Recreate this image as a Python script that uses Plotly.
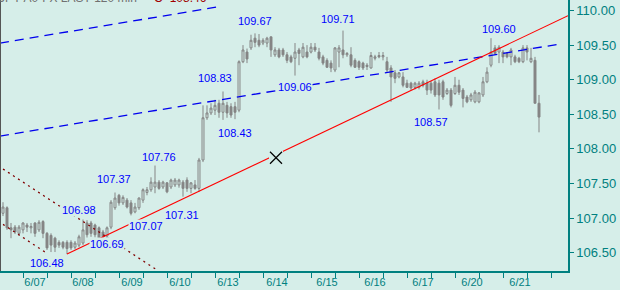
import plotly.graph_objects as go

# ---------------- data ----------------
opens = [107.07,107.15,106.86,106.87,106.78,106.83,106.90,106.86,106.93,106.83,
         106.95,106.78,106.75,106.71,106.65,106.65,106.65,106.65,106.58,106.61,
         106.64,106.93,106.93,106.90,106.86,106.80,106.74,106.87,107.15,107.33,
         107.22,107.26,107.22,107.09,107.15,107.26,107.37,107.41,107.45,107.52,
         107.45,107.51,107.45,107.48,107.48,107.52,107.55,107.43,107.48,107.43,
         107.84,108.45,108.52,108.56,108.66,108.53,108.63,108.61,108.61,108.56,
         109.26,109.40,109.46,109.60,109.57,109.53,109.53,109.62,109.36,109.43,
         109.43,109.36,109.33,109.31,109.43,109.33,109.40,109.40,109.47,109.40,
         109.33,109.28,109.24,109.14,109.40,109.43,109.36,109.36,109.28,109.26,
         109.24,109.21,109.17,109.31,109.35,109.33,109.26,109.17,109.10,109.04,
         109.04,108.95,108.95,108.89,108.89,108.97,108.95,108.95,108.97,108.95,
         108.97,108.80,108.85,108.80,108.92,108.85,108.75,108.71,108.68,108.68,
         108.78,108.97,109.21,109.46,109.40,109.40,109.38,109.33,109.33,109.31,
         109.26,109.46,109.26,109.28,108.66]
highs = [107.23,107.17,106.93,106.90,106.90,106.94,106.93,106.93,106.94,106.97,
         106.97,106.80,106.78,106.73,106.68,106.67,106.68,106.68,106.67,106.76,
         106.98,106.97,106.96,106.92,106.88,106.83,106.88,107.26,107.37,107.35,
         107.33,107.29,107.26,107.22,107.30,107.43,107.45,107.59,107.76,107.55,
         107.54,107.52,107.57,107.58,107.57,107.55,107.59,107.52,107.55,107.87,
         108.63,108.63,108.66,108.71,108.71,108.83,108.68,108.66,108.68,109.28,
         109.50,109.45,109.65,109.67,109.66,109.60,109.62,109.62,109.47,109.46,
         109.46,109.40,109.36,109.53,109.46,109.53,109.50,109.53,109.53,109.46,
         109.36,109.31,109.28,109.47,109.50,109.71,109.40,109.47,109.31,109.28,
         109.26,109.24,109.40,109.36,109.40,109.40,109.33,109.21,109.14,109.11,
         109.11,109.00,108.97,108.97,108.98,109.00,109.00,108.98,109.02,109.00,
         109.00,108.88,108.88,109.04,109.00,108.88,108.78,108.81,108.85,108.82,
         109.04,109.18,109.60,109.50,109.50,109.43,109.40,109.46,109.36,109.33,
         109.50,109.50,109.46,109.33,108.78]
lows = [107.03,106.83,106.71,106.77,106.75,106.78,106.80,106.78,106.73,106.80,
        106.71,106.54,106.51,106.51,106.57,106.55,106.48,106.54,106.55,106.58,
        106.61,106.72,106.73,106.72,106.69,106.69,106.71,106.84,107.12,107.18,
        107.19,107.14,107.04,107.07,107.12,107.22,107.33,107.38,107.36,107.41,
        107.42,107.36,107.42,107.45,107.44,107.31,107.38,107.36,107.41,107.38,
        107.81,108.42,108.49,108.49,108.45,108.42,108.45,108.45,108.43,108.53,
        109.24,109.24,109.43,109.47,109.47,109.50,109.47,109.33,109.33,109.31,
        109.33,109.24,109.24,109.06,109.21,109.31,109.31,109.38,109.40,109.28,
        109.21,109.17,109.11,109.11,109.18,109.31,109.33,109.18,109.17,109.14,
        109.14,109.14,109.16,109.28,109.31,109.28,109.11,108.68,108.95,109.02,
        108.89,108.88,108.85,108.86,108.86,108.89,108.78,108.80,108.75,108.57,
        108.71,108.78,108.60,108.78,108.78,108.60,108.66,108.68,108.66,108.66,
        108.75,108.95,109.18,109.36,109.24,109.24,109.31,109.21,109.24,109.24,
        109.24,109.28,109.24,108.66,108.24]
closes = [107.16,106.86,106.83,106.80,106.87,106.93,106.87,106.88,106.78,106.94,
          106.78,106.57,106.61,106.58,106.61,106.58,106.56,106.57,106.64,106.73,
          106.83,106.76,106.78,106.76,106.71,106.73,106.86,107.23,107.29,107.22,
          107.30,107.16,107.07,107.16,107.29,107.41,107.41,107.52,107.52,107.43,
          107.52,107.38,107.55,107.55,107.55,107.43,107.43,107.51,107.43,107.84,
          108.45,108.52,108.59,108.63,108.53,108.66,108.52,108.49,108.53,109.26,
          109.43,109.30,109.57,109.54,109.50,109.57,109.60,109.43,109.43,109.33,
          109.36,109.28,109.26,109.40,109.38,109.47,109.33,109.47,109.43,109.31,
          109.24,109.18,109.17,109.46,109.46,109.36,109.38,109.21,109.18,109.18,
          109.17,109.19,109.35,109.33,109.33,109.35,109.14,109.04,109.02,109.10,
          108.92,108.89,108.88,108.95,108.95,108.92,108.85,108.85,108.78,108.78,
          108.75,108.85,108.63,108.92,108.82,108.73,108.68,108.78,108.82,108.81,
          108.97,109.11,109.40,109.38,109.47,109.33,109.33,109.43,109.26,109.26,
          109.46,109.40,109.31,108.66,108.46]
bar_index = list(range(len(closes)))

day_labels = ["6/07", "6/08", "6/09", "6/10", "6/13", "6/14",
              "6/15", "6/16", "6/17", "6/20", "6/21"]
day_label_pos = [8, 20, 32.25, 44.25, 56.25, 68.5, 81, 93, 105, 117.25, 129.25]

y_ticks = [106.5, 107.0, 107.5, 108.0, 108.5, 109.0, 109.5, 110.0]

# drawn lines (bar index, price)
trend_x = [16, 141.25]
trend_y = [106.48, 109.925]
chan_up_x = [-0.75, 53.5]
chan_up_y = [109.53, 110.05]
chan_lo_x = [-0.75, 139.25]
chan_lo_y = [108.186, 109.516]
down1_x = [0, 38.5]
down1_y = [107.71, 106.25]
down2_x = [0, 10.5]
down2_y = [106.91, 106.51]
mark_x = [68.25]
mark_y = [107.873]

# pivot labels
pivot_vals = [106.48, 106.98, 106.69, 107.37, 107.07, 107.76, 107.31,
              108.83, 108.43, 109.67, 109.06, 109.71, 108.57, 109.60]
pivot_idx = [11, 19, 26.1, 27.75, 35.75, 39, 44.75,
             53, 58, 63, 73, 83.75, 107, 124]

title_text = "JPY A0-FX LAST-120 min"
close_text = "C=108.46"

# ---------------- style ----------------
BG = "#d6eee9"
TEAL = "#008080"
GRAY = "#858585"
FONT = "Liberation Sans, Arial, sans-serif"
pivot_shift = [-9, 9.5, -4.5, 13.5, -12.7, 8.5, -18.4,
               13.5, -14, 12.3, -11.5, 11.6, -12.5, 9.2]

fig = go.Figure()

fig.add_trace(go.Scatter(x=chan_up_x, y=chan_up_y, mode="lines",
                         line=dict(color="#0000ee", width=1.3, dash="9px,6px"),
                         hoverinfo="skip"))
fig.add_trace(go.Scatter(x=chan_lo_x, y=chan_lo_y, mode="lines",
                         line=dict(color="#0000ee", width=1.3, dash="9px,6px"),
                         hoverinfo="skip"))
fig.add_trace(go.Scatter(x=down1_x, y=down1_y, mode="lines",
                         line=dict(color="#800000", width=1.3, dash="2px,4px"),
                         hoverinfo="skip"))
fig.add_trace(go.Scatter(x=down2_x, y=down2_y, mode="lines",
                         line=dict(color="#800000", width=1.3, dash="2px,4px"),
                         hoverinfo="skip"))

fig.add_trace(go.Candlestick(
    x=bar_index, open=opens, high=highs, low=lows, close=closes,
    increasing=dict(line=dict(color=GRAY, width=1), fillcolor=BG),
    decreasing=dict(line=dict(color=GRAY, width=1), fillcolor=GRAY),
    whiskerwidth=0, hoverinfo="skip"))

fig.add_trace(go.Scatter(x=trend_x, y=trend_y, mode="lines",
                         line=dict(color="#ff0000", width=1.1),
                         hoverinfo="skip"))
fig.add_trace(go.Scatter(x=mark_x, y=mark_y, mode="markers",
                         marker=dict(symbol="square", size=14, color=BG,
                                     line=dict(width=0)),
                         hoverinfo="skip"))
fig.add_trace(go.Scatter(x=mark_x, y=mark_y, mode="markers",
                         marker=dict(symbol="x-thin-open", size=12,
                                     color="#000000",
                                     line=dict(color="#000000", width=1.2)),
                         hoverinfo="skip"))

for v, ix, s in zip(pivot_vals, pivot_idx, pivot_shift):
    fig.add_annotation(x=ix, y=v, text=f"{v:.2f}", showarrow=False,
                       xanchor="center", yanchor="middle", yshift=s,
                       font=dict(family=FONT, size=11, color="#0000ff"),
                       bgcolor=BG, borderpad=0)

fig.add_annotation(xref="paper", yref="paper", x=0, y=1, xshift=-3, yshift=-7,
                   xanchor="left", yanchor="bottom", text=title_text,
                   showarrow=False,
                   font=dict(family=FONT, size=12, color="#707070"))
fig.add_annotation(xref="paper", yref="paper", x=0, y=1, xshift=152, yshift=-7,
                   xanchor="left", yanchor="bottom", text=close_text,
                   showarrow=False,
                   font=dict(family=FONT, size=12, color="#a00000"))

fig.add_shape(type="line", xref="paper", yref="paper", x0=0, x1=0, y0=0, y1=1,
              line=dict(color="#555555", width=2))

fig.update_layout(
    width=620, height=290,
    margin=dict(l=0, r=52, t=0, b=19),
    paper_bgcolor=BG, plot_bgcolor=BG,
    showlegend=False,
    xaxis=dict(range=[-0.75, 141.25], rangeslider=dict(visible=False),
               tickmode="array", tickvals=day_label_pos, ticktext=day_labels,
               ticks="", showgrid=False, zeroline=False,
               showline=True, linecolor=TEAL, linewidth=1.5,
               tickfont=dict(family=FONT, size=11, color=TEAL),
               minor=dict(tickmode="linear", tick0=5, dtick=6, ticks="outside",
                          ticklen=5, tickcolor=TEAL, tickwidth=1, showgrid=False)),
    yaxis=dict(range=[106.236, 110.152], side="right",
               tickmode="array", tickvals=y_ticks,
               tickformat=".2f", ticks="outside", ticklen=4, tickcolor=TEAL,
               showgrid=False, zeroline=False,
               showline=True, linecolor=TEAL, linewidth=1.5,
               tickfont=dict(family=FONT, size=13, color=TEAL)),
)

fig.write_html("out.html")
